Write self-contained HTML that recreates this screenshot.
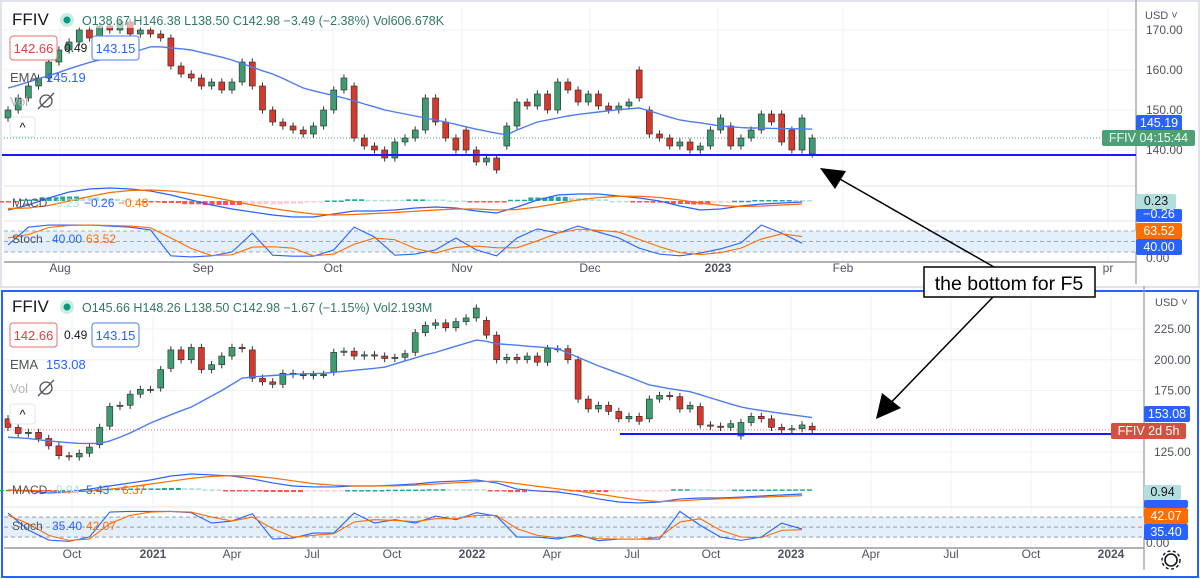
<!DOCTYPE html>
<html><head><meta charset="utf-8">
<style>
html,body{margin:0;padding:0;background:#fff;width:1200px;height:579px;overflow:hidden;font-family:"Liberation Sans",sans-serif;}
svg text{font-family:"Liberation Sans",sans-serif;}
</style></head>
<body>
<svg id="root" width="1200" height="579" viewBox="0 0 1200 579" xmlns="http://www.w3.org/2000/svg">
  <rect x="0" y="0" width="1200" height="579" fill="#fff"/>
  <rect x="1" y="1" width="1198" height="286" fill="none" stroke="#e0e3eb" stroke-width="2"/>
  <rect x="2" y="291" width="1196" height="286" fill="none" stroke="#2962ff" stroke-width="2"/>
  <g id="g-top"></g>
  <g id="g-bot"></g>
  <g id="g-ann"></g>
</svg>
<script>
// ---------- TOP (daily) data ----------
const topOpens=[148,150,153,156,158,162,165,167,170,168,171,170,172,169,170,169,168,161,159,158,156,157,155,157,162,156,150,147,146,145,144,146,150,155,156,143,141,140,138,142,143,145,153,147,143,145,140,137,138,141,146,152,151,154,150,157,155,152,154,151,150,151,160,150,144,143,141,142,140,141,145,146,141,143,145,149,149,145,140,139];
const topCloses=[150,153,156,158,162,165,167,170,168,171,170,172,169,170,169,168,161,159,158,156,157,155,157,162,156,150,147,146,145,144,146,150,155,158,143,141,140,138,142,143,145,153,147,143,140,140,137,138,135,146,152,151,154,150,157,155,152,154,151,150,151,152,153,144,143,141,142,140,141,145,148,141,143,145,149,147,142,140,148,143];
const topEma=[155.5,156.2,157,157.8,158.6,159.4,160.3,161.1,161.9,162.5,163.2,163.8,164.4,165,165.8,165.8,165.5,165.3,165,164.4,163.8,163.2,162.5,161.6,160.7,159.8,159,157.9,156.7,155.5,154.8,154.2,153.6,153,152.3,151.5,150.8,150,149.5,149,148.5,148,147.5,147,146.4,145.8,145.2,144.7,144.2,143.8,145,146,147,147.5,148,148.5,148.9,149.2,149.5,149.8,150.1,150.3,150.5,149.8,149,148.2,147.5,147.1,146.8,146.4,146,145.8,145.6,145.5,145.5,145.4,145.4,145.3,145.3,145.2];
const topMacd=[-3.6,-1.6,1.2,3.6,4.8,5.2,4.8,4,2.4,0.4,-1.6,-3.2,-4.4,-5.6,-6.4,-6.4,-5.2,-4,-4,-3.6,-2.8,-2.4,-2.8,-4,-4.8,-2.4,0.4,2.4,2.8,2.8,2,1.2,0,-2,-3.6,-3.2,-2,-1.2,-0.8,-0.4];
const topSignal=[-3,-2.8,-1.8,0,1.8,3.4,4.2,4.4,4,3,1.6,0,-1.6,-3,-4.2,-5.2,-5.6,-5.4,-5,-4.6,-4.1,-3.6,-3.2,-3.2,-3.6,-3.4,-2.4,-1,0.4,1.4,1.9,1.9,1.4,0.4,-0.8,-1.8,-2.2,-2,-1.6,-1.2];
const topStochK=[40,91,97,97,97,94,91,83,9,6,9,20,74,11,8,8,26,91,63,11,14,26,60,26,9,60,86,74,94,77,60,31,14,9,17,29,46,97,74,45];
const topStochD=[60,70,90,96,97,96,94,89,60,30,10,12,34,35,31,9,14,42,60,55,30,17,33,37,32,32,52,74,85,82,77,56,35,18,13,18,31,57,72,64];
const topPriceTicks=[170,160,150,140];
const topTimeLabels=["Aug","Sep","Oct","Nov","Dec","2023","Feb","pr"];
const topTimeX=[60,203,333,462,590,718,843,1108];

// ---------- BOTTOM (weekly) data ----------
const botOpens=[152,145,140,141,136,130,122,121,124,131,146,162,163,172,176,177,193,208,200,210,192,196,203,210,208,185,182,180,189,188,187,188,190,206,207,203,204,203,201,202,206,222,228,230,226,231,234,232,220,200,202,200,203,198,209,209,200,168,160,163,158,152,154,152,168,171,170,160,162,147,146,145,138,149,154,152,145,143,144,146];
const botCloses=[145,140,141,136,130,122,121,124,129,145,162,163,172,176,176,192,208,200,210,192,196,203,210,209,185,182,180,189,188,187,188,188,206,207,203,204,203,201,202,205,222,228,230,226,231,234,242,220,200,202,200,203,198,209,209,200,168,160,163,158,152,154,150,168,171,170,160,163,147,146,145,148,149,154,152,145,143,144,147,143];
const botEma=[137,136.5,136,135,134,133.3,132.6,132,132,132,134,137,140.5,144.5,148.6,152,155.3,158.5,161.6,166,170.5,175,180,185,186,186.6,187.2,187.7,188.2,188.6,188.8,189,189.8,190.6,191.4,192.2,193,194,196.5,199,201.5,204,206,208.5,211,213.5,216,215,213,212.4,211.8,211,210.4,209.8,209,205.5,202,198.5,195,192,189,186,182.7,179.5,178,176.5,175.3,174,171.6,169,166.5,164,161.6,160,158.8,157.6,156.4,155.2,154.1,153];
const botMacd=[0,-1.2,-3.8,-2.5,1.2,5,8.8,12.5,17.5,20,18.8,17.5,13.8,8.8,5,3.8,3.8,5,5,6.2,7.5,10,11.2,12.5,8.8,1.2,-1.2,-2.5,-6.2,-11.2,-15,-16.2,-15,-11.2,-10,-10,-8.8,-7.5,-6.2,-5];
const botSignal=[-0.5,-0.5,-1.5,-2.5,-1.5,1,4,7.5,11,14.5,17,18,17.5,15,11.5,8,6,5,5,5.2,6,7.5,9,10.5,11,8,4.5,1.5,-1.5,-5,-9,-12.5,-14.5,-13.5,-12,-11,-10,-9,-8,-7];
const botStochK=[92,41,11,7,20,95,97,97,97,93,62,68,90,14,17,32,32,92,62,72,62,83,72,93,83,20,20,14,27,9,14,14,14,97,55,20,10,20,62,44];
const botStochD=[85,60,25,10,14,60,85,95,97,95,80,68,80,45,20,25,30,65,72,70,66,75,75,85,85,45,25,18,22,15,14,14,20,65,75,40,20,18,40,42];
const botPriceTicks=[225,200,175,125];
const botTimeLabels=["Oct","2021","Apr","Jul","Oct","2022","Apr","Jul","Oct","2023","Apr","Jul","Oct","2024"];
const botTimeX=[72,153,232,312,392,472,552,632,711,791,871,951,1031,1111];

const NS="http://www.w3.org/2000/svg";
function mk(tag,attrs,parent){const e=document.createElementNS(NS,tag);for(const k in attrs)e.setAttribute(k,attrs[k]);parent.appendChild(e);return e;}
function txt(parent,x,y,s,size,fill,anchor,weight){const t=mk('text',{x:x,y:y,'font-size':size,fill:fill,'text-anchor':anchor||'start','font-weight':weight||'normal'},parent);t.textContent=s;return t;}
const UP="#3f9b70", DN="#d5382c";

function drawChart(g,cfg){
  const xi=i=>8+i*10.18;
  const xj=j=>8+j*20.36;
  cfg.timeX.forEach(x=>mk('line',{x1:x,y1:cfg.gridTop,x2:x,y2:cfg.axisY,stroke:'#eef0f4','stroke-width':1},g));
  cfg.priceTicks.forEach(p=>{const y=cfg.py(p);mk('line',{x1:4,y1:y,x2:cfg.axisX,y2:y,stroke:'#eef0f4','stroke-width':1},g);});
  cfg.seps.forEach((y,k)=>{mk('line',{x1:4,y1:y,x2:cfg.axisX,y2:y,stroke:k==cfg.seps.length-1?'#9598a1':'#e0e3eb','stroke-width':k==cfg.seps.length-1?1.5:1},g);});
  mk('line',{x1:cfg.axisX,y1:cfg.gridTop-10,x2:cfg.axisX,y2:cfg.axisY+22,stroke:'#9598a1','stroke-width':1.2},g);
  const sb=mk('rect',{x:4,y:cfg.sy(80),width:cfg.axisX-4,height:cfg.sy(20)-cfg.sy(80),fill:'#e3f0fc'},g);
  
  
  [80,50,20].forEach(v=>mk('line',{x1:4,y1:cfg.sy(v),x2:cfg.axisX,y2:cfg.sy(v),stroke:'#8a8d96','stroke-dasharray':'4,3','stroke-width':0.8},g));
  mk('line',{x1:4,y1:cfg.py(cfg.closes[cfg.closes.length-1]),x2:cfg.axisX,y2:cfg.py(cfg.closes[cfg.closes.length-1]),stroke:cfg.lastColor,'stroke-dasharray':'1,2','stroke-width':1},g);
  for(let i=0;i<cfg.opens.length;i++){
    const o=cfg.opens[i],c=cfg.closes[i];const up=c>=o;const col=up?UP:DN;
    const hi=Math.max(o,c)+cfg.wick,lo=Math.min(o,c)-cfg.wick;
    const cg=mk('g',{},g);
    
    
    mk('line',{x1:xi(i),y1:cfg.py(hi),x2:xi(i),y2:cfg.py(lo),stroke:'#333','stroke-width':1},cg);
    const y1=cfg.py(Math.max(o,c)),y2=cfg.py(Math.min(o,c));
    mk('rect',{x:xi(i)-3,y:y1,width:6,height:Math.max(1.2,y2-y1),fill:col,stroke:'#2a2a2a','stroke-width':0.6},cg);
  }
  const ema=mk('polyline',{points:cfg.ema.map((v,i)=>xi(i)+','+cfg.py(v)).join(' '),fill:'none',stroke:'#4d7cf0','stroke-width':1.4},g);
  
  
  for(let j=0;j<cfg.macd.length;j++){
    const d=cfg.macd[j]-cfg.signal[j];const prev=j?cfg.macd[j-1]-cfg.signal[j-1]:d;
    const col=d>=0?(d>=prev?'#26a69a':'#b2dfdb'):(d<=prev?'#ff5252':'#ffcdd2');
    for(let s=0;s<3;s++){
      const y0=cfg.my(0),y=cfg.my(d*cfg.histScale);
      const b=mk('rect',{x:xj(j)-9+s*7,y:Math.min(y0,y),width:5,height:Math.max(1.5,Math.abs(y-y0)),fill:col},g);
      
      
    }
  }
  const mline=mk('polyline',{points:cfg.macd.map((v,j)=>xj(j)+','+cfg.my(v)).join(' '),fill:'none',stroke:'#2962ff','stroke-width':1.2},g);
  
  
  const sline=mk('polyline',{points:cfg.signal.map((v,j)=>xj(j)+','+cfg.my(v)).join(' '),fill:'none',stroke:'#ff6d00','stroke-width':1.2},g);
  
  
  const kl=mk('polyline',{points:cfg.k.map((v,j)=>xj(j)+','+cfg.sy(v)).join(' '),fill:'none',stroke:'#2962ff','stroke-width':1.1},g);
  
  
  const dl=mk('polyline',{points:cfg.d.map((v,j)=>xj(j)+','+cfg.sy(v)).join(' '),fill:'none',stroke:'#ff6d00','stroke-width':1.1},g);
  
  
  cfg.priceTicks.forEach(p=>{const t=txt(g,cfg.axisX+10,cfg.py(p)+4,p.toFixed(2),12,'#50535e');
    
    });
  cfg.timeLabels.forEach((s,k)=>{const bold=/^20/.test(s);const t=txt(g,cfg.timeX[k],cfg.axisY+10,s,12,'#50535e','middle',bold?'bold':'normal');
    
    });
}

drawChart(document.getElementById('g-top'),{
  opens:topOpens,closes:topCloses,ema:topEma,macd:topMacd,signal:topSignal,k:topStochK,d:topStochD,
  priceTicks:topPriceTicks,timeLabels:topTimeLabels,timeX:topTimeX,
  py:p=>150-(p-140)*4, my:v=>201-v*2.5, sy:v=>259-v*0.35, histScale:0.5,
  gridTop:8, axisX:1136, axisY:262, seps:[186,221,262], wick:0.9, lastColor:'#3f9b70'
});
drawChart(document.getElementById('g-bot'),{
  opens:botOpens,closes:botCloses,ema:botEma,macd:botMacd,signal:botSignal,k:botStochK,d:botStochD,
  priceTicks:botPriceTicks,timeLabels:botTimeLabels,timeX:botTimeX,
  py:p=>452-(p-125)*1.23, my:v=>490-v*0.8, sy:v=>543.7-v*0.333, histScale:0.4,
  gridTop:296, axisX:1144, axisY:548, seps:[472,507,548], wick:3, lastColor:'#e57368'
});

const A=document.getElementById('g-ann');
function named(el,name,inter){return el;}
named(mk('line',{x1:2,y1:155,x2:1136,y2:155,stroke:'#1a1aff','stroke-width':2},A),'top-support-line',false);
named(mk('line',{x1:620,y1:434,x2:1140,y2:434,stroke:'#1a1aff','stroke-width':2},A),'bottom-support-line',false);

function legend(y0,ohlc,ema,stK,stD,macdV){
  const lg=mk('g',{},A);
  named(lg,'legend',false);
  mk('rect',{x:8,y:y0-14,width:400,height:22,fill:'#fff','fill-opacity':0.6},lg);
  named(txt(lg,12,y0+5,'FFIV',17,'#131722'),'symbol-title',false);
  mk('circle',{cx:67,cy:y0,r:7,fill:'#c8ece4'},lg);
  mk('circle',{cx:67,cy:y0,r:3.5,fill:'#089981'},lg);
  named(txt(lg,82,y0+5,ohlc,12.5,'#2f7a5e'),'ohlc-values',false);
  named(mk('rect',{x:10,y:y0+16,width:47,height:24,rx:3,fill:'#fff',stroke:'#f06b6b'},lg),'bid-box',true);
  txt(lg,33.5,y0+33,'142.66',13,'#e04040','middle');
  txt(lg,64,y0+32,'0.49',12,'#131722');
  named(mk('rect',{x:92,y:y0+16,width:47,height:24,rx:3,fill:'#fff',stroke:'#4d7cf0'},lg),'ask-box',true);
  txt(lg,115.5,y0+33,'143.15',13,'#2962ff','middle');
  named(txt(lg,10,y0+62,'EMA',13,'#50535e'),'ema-label',false);
  txt(lg,46,y0+62,ema,13,'#2962ff');
  txt(lg,10,y0+86,'Vol',13,'#b0b3bb');
  mk('circle',{cx:46,cy:y0+81,r:6,fill:'none',stroke:'#50535e','stroke-width':1.3},lg);
  mk('line',{x1:38,y1:y0+89,x2:54,y2:y0+73,stroke:'#50535e','stroke-width':1.3},lg);
  named(mk('rect',{x:10,y:y0+97,width:25,height:20,rx:3,fill:'#fff',stroke:'#e0e3eb'},lg),'collapse-button',true);
  txt(lg,22.5,y0+112,'^',13,'#131722','middle');
  const mg=mk('g',{},lg);
  named(mg,'macd-legend',false);
  txt(mg,12,y0+macdV.dy,'MACD',12,'#50535e');
  txt(mg,56,y0+macdV.dy,macdV.a,12,'#b2dfdb');
  txt(mg,macdV.x2,y0+macdV.dy,macdV.b,12,'#2962ff');
  txt(mg,macdV.x3,y0+macdV.dy,macdV.c,12,'#ff6d00');
  const sg=mk('g',{},lg);
  named(sg,'stoch-legend',false);
  txt(sg,12,y0+macdV.dy+36,'Stoch',12,'#50535e');
  txt(sg,52,y0+macdV.dy+36,stK,12,'#2962ff');
  txt(sg,86,y0+macdV.dy+36,stD,12,'#ff6d00');
}
legend(20,'O138.67  H146.38  L138.50  C142.98  −3.49 (−2.38%)  Vol606.678K','145.19','40.00','63.52',{dy:187,a:'0.23',b:'−0.26',c:'−0.48',x2:84,x3:118});
legend(307,'O145.66  H148.26  L138.50  C142.98  −1.67 (−1.15%)  Vol2.193M','153.08','35.40','42.07',{dy:187,a:'0.94',b:'5.43',c:'6.37',x2:86,x3:122});

function badge(x,y,w,h,bg,fg,s,name){
  const b=mk('g',{},A);
  named(b,name,false);
  mk('rect',{x:x,y:y,width:w,height:h,rx:2,fill:bg},b);
  txt(b,x+w/2,y+h-4,s,12.5,fg,'middle');
}
txt(A,1145,19,'USD ˅',11,'#50535e');
badge(1136,115,46,16,'#2962ff','#fff','145.19','ema-price-badge');
badge(1102,130,93,16,'#4f9f76','#e8fff4','FFIV    04:15:44','last-price-badge');
badge(1136,194,40,15,'#b2dfdb','#131722','0.23','macd-hist-badge');
badge(1136,209,46,13,'#2962ff','#fff','−0.26','macd-badge');
badge(1136,223,46,16,'#ff6d00','#fff','63.52','stoch-d-badge');
badge(1136,239,46,16,'#2962ff','#fff','40.00','stoch-k-badge');
txt(A,1146,262,'0.00',12,'#50535e');
txt(A,1155,306,'USD ˅',11,'#50535e');
badge(1144,406,46,16,'#2962ff','#fff','153.08','ema-price-badge-weekly');
badge(1111,423,75,16,'#d5513f','#fff','FFIV   2d 5h','last-price-badge-weekly');
badge(1144,485,37,15,'#b2dfdb','#131722','0.94','macd-hist-badge-weekly');
badge(1144,500,44,8,'#2962ff','#fff','','macd-badge-weekly');
badge(1144,508,44,16,'#ff6d00','#fff','42.07','stoch-d-badge-weekly');
badge(1144,524,44,16,'#2962ff','#fff','35.40','stoch-k-badge-weekly');
txt(A,1146,547,'0.00',12,'#50535e');
const gear=mk('g',{},A);
named(gear,'settings-gear',true);
mk('circle',{cx:1171,cy:560,r:6,fill:'none',stroke:'#131722','stroke-width':1.6},gear);
mk('circle',{cx:1171,cy:560,r:9,fill:'none',stroke:'#131722','stroke-width':1.4,'stroke-dasharray':'3,2.5'},gear);

const a1=mk('line',{x1:994,y1:267,x2:824,y2:170,stroke:'#000','stroke-width':1.5},A);
named(a1,'arrow-top',false);
mk('polygon',{points:'820,168 846,171 835,189',fill:'#000'},A);
const a2=mk('line',{x1:994,y1:296,x2:878,y2:416,stroke:'#000','stroke-width':1.5},A);
named(a2,'arrow-bottom',false);
mk('polygon',{points:'876,419 882,393 901,408',fill:'#000'},A);
named(mk('rect',{x:924,y:267,width:171,height:30,fill:'#fff',stroke:'#000','stroke-width':1.5},A),'annotation-box',false);
named(txt(A,1009,290,'the bottom for F5',19.5,'#000','middle'),'annotation-text',false);
</script>
</body></html>
